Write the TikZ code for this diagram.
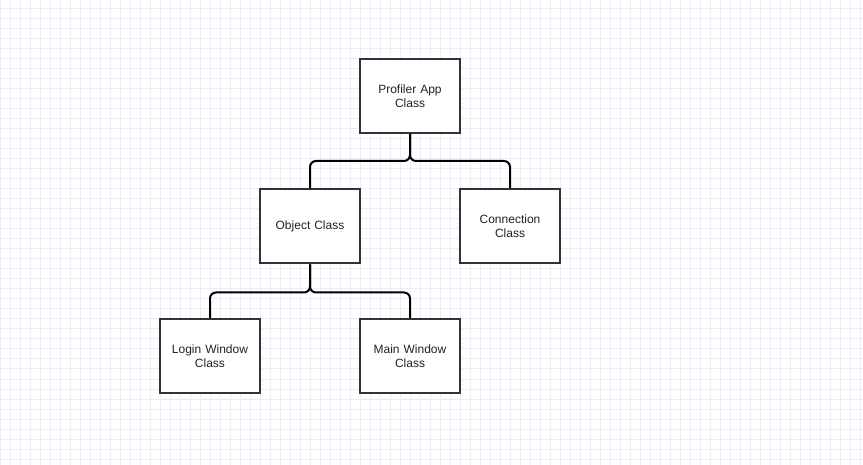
\documentclass[tikz,border=0pt]{standalone}
\usepackage{fontspec}
\setmainfont{Liberation Sans}
\definecolor{gridc}{HTML}{ECECF6}
\definecolor{boxc}{HTML}{333333}
\definecolor{textc}{HTML}{222222}
\begin{document}
\begin{tikzpicture}[x=1pt,y=-1pt,
  classbox/.style={draw=boxc, line width=2pt, fill=white, minimum width=100pt, minimum height=74pt,
    text width=94pt, align=center, inner sep=0pt, text=textc, font=\fontsize{12}{14}\selectfont},
  link/.style={draw=black, line width=2pt, rounded corners=6pt}]
\useasboundingbox (0,0) rectangle (863,465);
\fill[white] (0,0) rectangle (863,465);
\foreach \gx in {0,10,...,860} {\draw[gridc, line width=1pt] (\gx,0) -- (\gx,465);}
\foreach \gy in {9,19,...,459} {\draw[gridc, line width=1pt] (0,\gy) -- (863,\gy);}
\node[classbox] (app) at (410,96) {Profiler App\\Class};
\node[classbox] (obj) at (310,226.5) {Object Class};
\node[classbox] (conn) at (510,226) {Connection\\Class};
\node[classbox] (login) at (210,356) {Login Window\\Class};
\node[classbox] (main) at (410,356) {Main Window\\Class};
\draw[link] (app.south) -- ++(0,27) -| (obj.north);
\draw[link] (app.south) -- ++(0,27) -| (conn.north);
\draw[link] (obj.south) -- ++(0,28) -| (login.north);
\draw[link] (obj.south) -- ++(0,28) -| (main.north);
\end{tikzpicture}
\end{document}
